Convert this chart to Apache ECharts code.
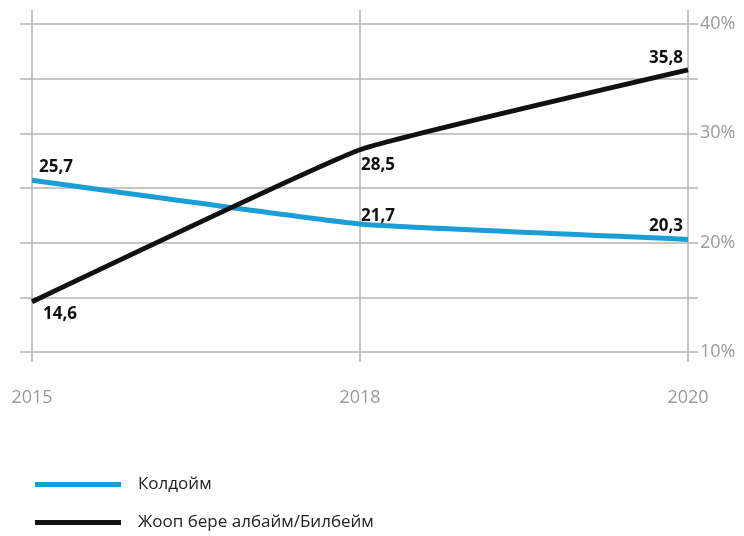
<!DOCTYPE html>
<html><head><meta charset="utf-8">
<script src="https://cdn.jsdelivr.net/npm/echarts@6/dist/echarts.min.js"></script>
<style>html,body{margin:0;padding:0;background:#fff}#c{width:744px;height:536px}</style>
</head><body><div id="c"></div>
<script>
const years = ['2015', '2018', '2020'];
const seriesNames = ['Колдойм', 'Жооп бере албайм/Билбейм'];
const koldoim = [25.7, 21.7, 20.3];
const joop = [14.6, 28.5, 35.8];
const yTicks = [10, 20, 30, 40];

const fmt = v => String(v).replace('.', ',');
const labelStyle = { fontFamily: 'Open Sans', fontWeight: 'bold', fontSize: 17, color: '#111' };
const gridColor = '#b4b4b4';

const blueLabels = [
  { position: 'top', offset: [24, 0] },
  { position: 'top', offset: [18, 6] },
  { position: 'top', offset: [-22, 0] }
];
const blackLabels = [
  { position: 'bottom', offset: [28, -1] },
  { position: 'bottom', offset: [18, 2] },
  { position: 'top', offset: [-22, 2] }
];

const chart = echarts.init(document.getElementById('c'));
chart.setOption({
  animation: false,
  textStyle: { fontFamily: 'Open Sans' },
  grid: { left: 32, right: 56, top: 24, bottom: 184, containLabel: false },
  legend: {
    orient: 'vertical', left: 30, top: 471, itemGap: 21,
    icon: 'rect', itemWidth: 86, itemHeight: 5,
    textStyle: { fontFamily: 'Open Sans', fontSize: 17, color: '#222', padding: [0, 0, 0, 12] },
    data: seriesNames
  },
  xAxis: [{
    type: 'category', data: years, boundaryGap: false, position: 'bottom',
    axisLine: { show: false },
    axisTick: { show: true, length: 10, lineStyle: { color: gridColor, width: 1.5 } },
    splitLine: { show: true, lineStyle: { color: gridColor, width: 1.5 } },
    axisLabel: { margin: 37, fontSize: 18, color: '#9a9a9a', fontFamily: 'Open Sans' }
  }, {
    type: 'category', data: years, boundaryGap: false, position: 'top',
    axisLine: { show: false },
    axisTick: { show: true, length: 14, lineStyle: { color: gridColor, width: 1.5 } },
    axisLabel: { show: false }
  }],
  yAxis: [{
    type: 'value', position: 'right', min: 10, max: 40, interval: 5,
    axisLine: { show: false },
    axisTick: { show: true, length: 10, lineStyle: { color: gridColor, width: 1.5 } },
    splitLine: { show: true, lineStyle: { color: gridColor, width: 1.5 } },
    axisLabel: {
      margin: 12, fontSize: 18, color: '#9a9a9a', fontFamily: 'Open Sans',
      formatter: v => yTicks.includes(v) ? v + '%' : ''
    }
  }, {
    type: 'value', position: 'left', min: 10, max: 40, interval: 5,
    axisLine: { show: false },
    axisTick: { show: true, length: 12, lineStyle: { color: gridColor, width: 1.5 } },
    splitLine: { show: false },
    axisLabel: { show: false }
  }],
  series: [{
    name: seriesNames[0], type: 'line', smooth: 0.1, symbol: 'circle', symbolSize: 0.1, showSymbol: true,
    color: '#1a9ed6', lineStyle: { width: 5, color: '#1a9ed6' },
    label: Object.assign({ show: true, formatter: p => fmt(p.value) }, labelStyle),
    data: koldoim.map((v, i) => ({ value: v, label: blueLabels[i] })),
    z: 3
  }, {
    name: seriesNames[1], type: 'line', smooth: 0.1, symbol: 'circle', symbolSize: 0.1, showSymbol: true,
    color: '#111', lineStyle: { width: 5, color: '#111' },
    label: Object.assign({ show: true, formatter: p => fmt(p.value) }, labelStyle),
    data: joop.map((v, i) => ({ value: v, label: blackLabels[i] })),
    z: 4
  }]
});
</script></body></html>
